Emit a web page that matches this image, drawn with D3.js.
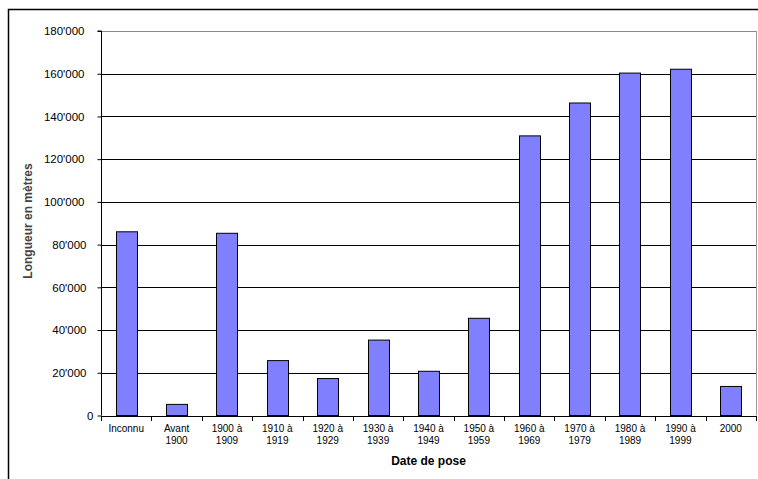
<!DOCTYPE html>
<html>
<head>
<meta charset="utf-8">
<script src="https://cdn.jsdelivr.net/npm/d3@7"></script>
<style>
  html, body { margin: 0; padding: 0; background: #fff; }
  svg { display: block; font-family: "Liberation Sans", Arial, sans-serif; }
</style>
</head>
<body>
<svg id="chart" width="758" height="479"></svg>
<script>
// Longueur posée par période de pose
const categories = [
  ["Inconnu"], ["Avant", "1900"], ["1900 à", "1909"], ["1910 à", "1919"],
  ["1920 à", "1929"], ["1930 à", "1939"], ["1940 à", "1949"], ["1950 à", "1959"],
  ["1960 à", "1969"], ["1970 à", "1979"], ["1980 à", "1989"], ["1990 à", "1999"],
  ["2000"]
];
const values = [86000, 5200, 85300, 25700, 17300, 35300, 20700, 45500, 130900, 146300, 160300, 162100, 13600];
const yTicks = [0, 20000, 40000, 60000, 80000, 100000, 120000, 140000, 160000, 180000];
const xTitle = "Date de pose";
const yTitle = "Longueur en mètres";

const svg = d3.select("#chart");
const plot = { left: 101, right: 756, top: 31, bottom: 415.5 };

// outer frame (left and top edges)
svg.append("path")
  .attr("d", `M8.5,479 V9.5 H758`)
  .attr("fill", "none").attr("stroke", "#000").attr("stroke-width", 1.5);

const keys = categories.map((c, i) => i);
const x = d3.scaleBand().domain(keys).range([plot.left, plot.right]).paddingInner(0.58).paddingOuter(0.29);
const xb = d3.scaleBand().domain(keys).range([plot.left, plot.right]);
const y = d3.scaleLinear().domain([0, 180000]).range([plot.bottom, plot.top]);

// plot area right border
svg.append("line")
  .attr("x1", plot.right + 0.5).attr("x2", plot.right + 0.5)
  .attr("y1", y(180000)).attr("y2", plot.bottom)
  .attr("stroke", "#999").attr("stroke-width", 1);

// gridlines
svg.append("g").selectAll("line").data(yTicks.filter(d => d > 0)).join("line")
  .attr("x1", plot.left).attr("x2", plot.right)
  .attr("y1", d => Math.round(y(d)) + 0.5).attr("y2", d => Math.round(y(d)) + 0.5)
  .attr("stroke", d => d === 180000 ? "#888" : "#000").attr("stroke-width", 1);

// bars
svg.append("g").selectAll("rect").data(values).join("rect")
  .attr("x", (d, i) => Math.round(x(i)) + 0.5)
  .attr("width", Math.round(x.bandwidth()))
  .attr("y", d => y(d))
  .attr("height", d => plot.bottom - y(d))
  .attr("fill", "#8080ff").attr("stroke", "#000").attr("stroke-width", 1);

// y axis (thousands separated by an apostrophe)
const yAxis = d3.axisLeft(y).tickValues(yTicks).tickSize(4).tickPadding(4)
  .tickFormat(d => d3.format(",")(d).replace(/,/g, "'"));
const gy = svg.append("g").attr("transform", `translate(${plot.left + 0.5},0)`).call(yAxis);
gy.select(".domain").attr("d", `M-4,${y(180000)}H0V${plot.bottom}`).attr("stroke", "#000");
gy.selectAll("text")
  .attr("font-size", 11.5).attr("fill", "#000")
  .attr("font-family", "Liberation Sans, Arial, sans-serif")
  .attr("dx", d => d === 0 ? 0 : (d >= 100000 ? -9 : -7));

// x axis line and boundary ticks
const gx = svg.append("g");
gx.append("line").attr("x1", plot.left).attr("x2", plot.right + 1)
  .attr("y1", Math.round(plot.bottom) + 0.5).attr("y2", Math.round(plot.bottom) + 0.5)
  .attr("stroke", "#000");
gx.selectAll(".xt").data(keys.concat([keys.length])).join("line")
  .attr("class", "xt")
  .attr("x1", d => Math.round(d < keys.length ? xb(d) : plot.right) + 0.5)
  .attr("x2", d => Math.round(d < keys.length ? xb(d) : plot.right) + 0.5)
  .attr("y1", Math.round(plot.bottom)).attr("y2", Math.round(plot.bottom) + 5)
  .attr("stroke", "#000");

// category labels
const lbl = gx.selectAll(".xl").data(categories).join("text")
  .attr("class", "xl")
  .attr("x", (d, i) => xb(i) + xb.bandwidth() / 2)
  .attr("y", 432)
  .attr("text-anchor", "middle")
  .attr("font-size", 10).attr("fill", "#000");
lbl.selectAll("tspan").data(d => d).join("tspan")
  .attr("x", function () { return d3.select(this.parentNode).attr("x"); })
  .attr("dy", (d, i) => i === 0 ? 0 : 12)
  .text(d => d);

// axis titles
svg.append("text")
  .attr("x", (plot.left + plot.right) / 2).attr("y", 465)
  .attr("text-anchor", "middle").attr("font-size", 12).attr("font-weight", "bold")
  .text(xTitle);

svg.append("text")
  .attr("transform", `translate(32,221) rotate(-90)`)
  .attr("text-anchor", "middle").attr("font-size", 12).attr("font-weight", "bold")
  .attr("fill", "#444")
  .text(yTitle);
</script>
</body>
</html>
